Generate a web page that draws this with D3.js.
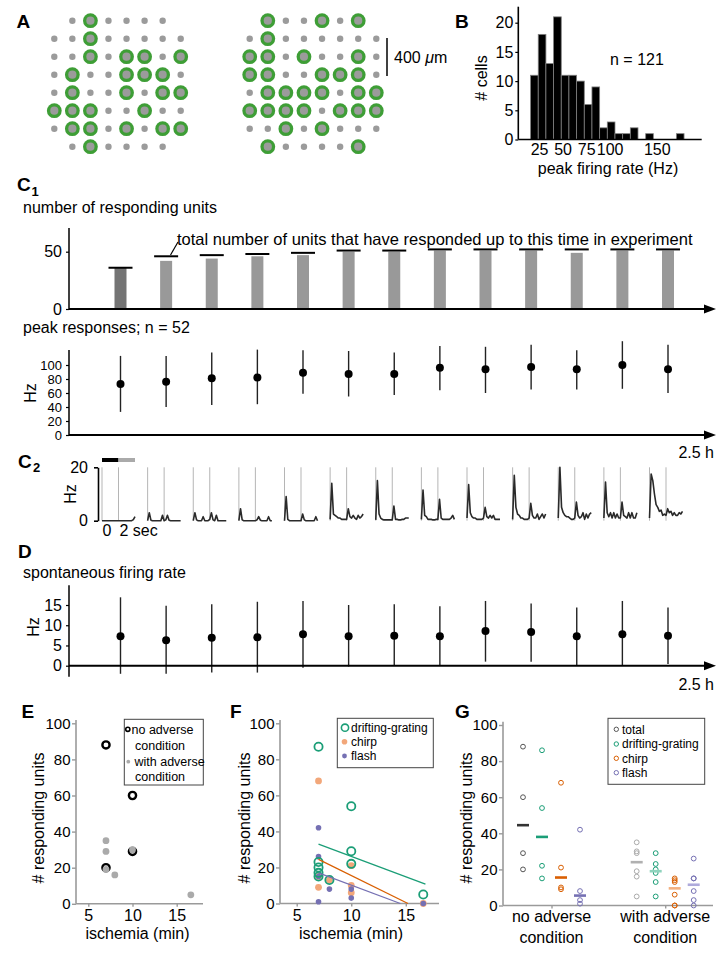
<!DOCTYPE html>
<html><head><meta charset="utf-8">
<script src="https://cdn.jsdelivr.net/npm/d3@7"></script>
<style>
body{margin:0;background:#fff;}
svg{display:block;font-family:"Liberation Sans",Arial,Helvetica,sans-serif;}
</style></head><body>
<svg id="fig" width="723" height="961"></svg>
<script>
// ---------------- DATA ----------------
// Panel A: electrode grids (' ' none, '.' electrode, 'G' responding)
const gridLeft  = [" .G.... ", "..G.....", "..G.GG.G", ".G..GGG.", ".G..G.GG", "GGG..G..", ".GG.G.GG", " .G.... "];
const gridRight = [" G..G.G ", ".G......", "GG.G..G.", "GG..GGG.", ".GGGG.GG", "GGGG.GGG", "..G.G...", " G....G "];
const scaleBarLabel = "400 ";

// Panel B: histogram of peak firing rates
const histCounts = [11,18,13,21,11,11,10,6,9,2,3,1,1,2,0,1,0,0,0,1];
const histRange = [16, 179];
const histXTicks = [25,50,75,100,150];
const histYTicks = [0,5,10,15,20];
const histLabel = "n = 121";

// Panel C1
const sessions = [1,2,3,4,5,6,7,8,9,10,11,12,13];
const respondingUnits = [36,42,44,46,47,50,50,51,51,51,49,51,51];
const cumulativeUnits = [36,46,47,48,49,51,51,52,52,52,52,52,52];
const unitTicks = [0,50];
const peakMean = [73,76,81,82,89,87,87,96,94,97,94,100,94];
const peakHigh = [113,113,118,122,121,120,118,127,126,129,121,134,129];
const peakLow  = [33,40,43,44,59,55,57,64,60,65,65,66,60];
const peakTicks = [0,20,40,60,80,100];

// Panel C2: PSTHs (Hz) at times (s)
const traceT = [0,0.2,0.4,0.6,0.8,1.0,1.2,1.4,1.6,1.8,2.0,2.2,2.4,2.6,2.8,3.0,3.2,3.4,3.6,3.8,4.0];
const psth = [
  [0,0,0,0,0,0,0,0,0,0,0,0,0,0,0,0,0,0,0,0.4,1.5],
  [0,3,0.2,0,0,0,0,0,0,2,0,0.3,2,0.2,0,0,0,0,0,0,0],
  [0,3,0.3,0,0,0,1.5,0,0,0,0.5,3,0.3,0,2,0,0,0,0,0,0],
  [0,4.5,0.3,0,0,0,0,0,0,0,0,0.3,1.5,0.2,0,0,0,0,1.5,0,0],
  [0,9,0.5,0,0,0,0,0,0,0,0,2.5,0.3,0,0,0,0,0,0,1.5,0],
  [0.5,14,2.5,2,1.5,1,1,0.5,0.5,0.5,0.5,4.5,1.5,1,2,1,0.5,2,1,1.5,2.5],
  [0.3,15,2.5,1,0.5,0.3,0.3,0.3,0.3,0.3,0.3,5.5,0.5,0.5,0.3,0.3,0.5,0.5,1,1,1],
  [0.5,11.5,2,1.5,0.5,0.5,0.5,0.3,0.3,0.5,0.5,8,1,0.5,0.5,0.5,0.5,0.5,1,2,0.5],
  [1,13.5,3,1.5,1,1,0.5,0.5,0.5,0.5,1,5,1.5,1,2,1,2,0.5,0.5,0.5,0.5],
  [0.5,17,5,2.5,2,1,1,0.5,0.5,0.5,1,6.5,2,1,1,2.5,0.5,1.5,2.5,1,2.5],
  [1,20,5,3,2,1.5,1.5,1,0.5,0.5,1,7,2,1,1.5,3,0.5,2.5,1,2.5,3],
  [1,14.5,3,1.5,3,1,3,1,2.5,1,1,7,2,1.5,1,3,1,3,1,1,3],
  [1,17.5,15,10,6,5,3.5,4,2,2.5,2,4.5,3,3.5,2,3,2,2,3,2.5,3.5]
];
const psthTicks = [0,20];

// Panel D
const spontMean = [7.3,6.3,6.9,7.0,7.8,7.3,7.4,7.3,8.6,8.3,7.3,7.8,7.4];
const spontHigh = [16.9,14.8,15.2,15.8,16.0,15.0,15.2,14.7,16.0,15.4,14.4,16.0,14.4];
const spontLow  = [-2.0,-2.0,-1.7,-1.7,-0.5,-0.2,0,0,1.0,1.0,0,0,0.4];
const spontTicks = [0,5,10,15];

// Panel E
const eNoAdvX = [7,10,7,10];
const eNoAdvY = [88,60,20,29];
const eAdvX = [7,7,7,8,10,16.6];
const eAdvY = [35,29,19,16,30,5];
const ischTicks = [5,10,15];
const unitsTicks = [0,20,40,60,80,100];

// Panel F
const fDriftX = [7,10,10,10,7,7,7,7,8,16.6];
const fDriftY = [87,54,29,22,23,20,17,15,13,5];
const fChirpX = [7,7,7,8,10,10,10,16.6];
const fChirpY = [68,15,9,13,21,10,6,0];
const fFlashX = [7,7,7,7,8,10,10,16.6];
const fFlashY = [42,26,15,1,8,8,3,0];
const fitDriftX = [7,16.8], fitDriftY = [33,10.7];
const fitChirpX = [7,15.2], fitChirpY = [24.5,0];
const fitFlashX = [7,14.5], fitFlashY = [17,0];

// Panel G
const gGroups = ["no adverse condition","with adverse condition"];
const gSeries = ["total","drifting-grating","chirp","flash"];
const gNoAdv = [[88,60,29,20],[86,54,22,15],[68,21,10,9],[42,8,3,1]];
const gWithAdv = [[35,30,29,19,16,5],[29,23,20,18,13,5],[15,14,13,6,0,0],[26,15,15,8,3,0]];

// ---------------- DRAWING ----------------
const svg = d3.select("#fig");

function text(g, x, y, t, o = {}) {
  return g.append("text").attr("x", x).attr("y", y).text(t)
    .attr("font-size", o.size || 16).attr("font-weight", o.weight || "normal")
    .attr("text-anchor", o.anchor || "start").attr("fill", o.fill || "#000");
}
function rtext(g, x, y, t, size = 16) {
  return g.append("text").attr("transform", `translate(${x},${y}) rotate(-90)`)
    .attr("text-anchor", "middle").attr("font-size", size).text(t);
}
function arrowAxis(g, y, x0, x1) {
  g.append("line").attr("x1", x0).attr("x2", x1 - 8).attr("y1", y).attr("y2", y)
    .attr("stroke", "#000").attr("stroke-width", 2);
  g.append("path").attr("d", `M${x1},${y}L${x1 - 12},${y - 4.5}L${x1 - 12},${y + 4.5}Z`).attr("fill", "#000");
}
function fixAxis(ax, color, size, width) {
  ax.attr("font-family", null).attr("font-size", null);
  ax.select(".domain").remove();
  ax.selectAll("line").attr("stroke", color).attr("stroke-width", width || 1.2);
  ax.selectAll("text").attr("font-size", size).attr("fill", "#000");
  return ax;
}

// ----- Panel A -----
const gA = svg.append("g");
text(gA, 16.5, 28, "A", {size: 19, weight: "bold"});
const rowY = d3.scalePoint().domain(d3.range(8)).range([20.7, 146.7]);
function drawGrid(grid, x0, x1) {
  const colX = d3.scalePoint().domain(d3.range(8)).range([x0, x1]);
  const cells = grid.flatMap((row, r) => row.split("").map((ch, c) => ({r, c, ch}))).filter(d => d.ch !== " ");
  gA.append("g").selectAll("circle").data(cells.filter(d => d.ch === "G")).join("circle")
    .attr("cx", d => colX(d.c)).attr("cy", d => rowY(d.r)).attr("r", 7.4).attr("fill", "#3e9e36");
  gA.append("g").selectAll("circle").data(cells).join("circle")
    .attr("cx", d => colX(d.c)).attr("cy", d => rowY(d.r))
    .attr("r", d => d.ch === "G" ? 4.1 : 3.2).attr("fill", "#9b9b9b");
}
drawGrid(gridLeft, 54.3, 180.7);
drawGrid(gridRight, 249.7, 376.3);
gA.append("line").attr("x1", 387).attr("x2", 387).attr("y1", 38).attr("y2", 76).attr("stroke", "#000").attr("stroke-width", 1.5);
const sb = gA.append("text").attr("x", 394).attr("y", 63).attr("font-size", 16);
sb.append("tspan").text(scaleBarLabel);
sb.append("tspan").attr("font-style", "italic").text("μ");
sb.append("tspan").text("m");

// ----- Panel B -----
const gB = svg.append("g");
text(gB, 455, 27.5, "B", {size: 19, weight: "bold"});
const xB = d3.scaleLinear().domain([0, 197]).range([515.5, 701]);
const yB = d3.scaleLinear().domain([0, 20]).range([139.5, 22.7]);
const binW = (histRange[1] - histRange[0]) / histCounts.length;
gB.append("g").selectAll("rect").data(histCounts.map((c, i) => ({c, i})).filter(d => d.c > 0)).join("rect")
  .attr("x", d => xB(histRange[0] + d.i * binW))
  .attr("width", d => xB(histRange[0] + (d.i + 1) * binW) - xB(histRange[0] + d.i * binW))
  .attr("y", d => yB(d.c)).attr("height", d => yB(0) - yB(d.c))
  .attr("fill", "#000").attr("stroke", "#808080").attr("stroke-width", 0.8);
gB.append("line").attr("x1", 518.3).attr("x2", 518.3).attr("y1", 6.7).attr("y2", 139.5).attr("stroke", "#000").attr("stroke-width", 1.6);
gB.append("line").attr("x1", 518.3).attr("x2", 701.7).attr("y1", 139.5).attr("y2", 139.5).attr("stroke", "#000").attr("stroke-width", 1.6);
fixAxis(gB.append("g").attr("transform", "translate(518.3,0)")
  .call(d3.axisLeft(yB).tickValues(histYTicks).tickSize(3).tickPadding(2)), "#000", 16);
fixAxis(gB.append("g").attr("transform", "translate(0,139.5)")
  .call(d3.axisBottom(xB).tickValues(histXTicks).tickSize(0).tickPadding(4.5)), "#000", 16);
text(gB, 610, 64.5, histLabel);
text(gB, 608, 173.5, "peak firing rate (Hz)", {anchor: "middle"});
rtext(gB, 487, 78, "# cells");

// ----- Panel C1 -----
const xT = d3.scalePoint().domain(sessions).range([120.5, 668]);
const gC = svg.append("g");
text(gC, 17, 191, "C", {size: 19, weight: "bold"});
text(gC, 31.5, 196, "1", {size: 13, weight: "bold"});
text(gC, 23, 213, "number of responding units");
const yU = d3.scaleLinear().domain([0, 50]).range([309, 251.7]);
gC.append("line").attr("x1", 69).attr("x2", 69).attr("y1", 228).attr("y2", 309).attr("stroke", "#000").attr("stroke-width", 1.5);
fixAxis(gC.append("g").attr("transform", "translate(69,0)")
  .call(d3.axisLeft(yU).tickValues(unitTicks).tickSize(3).tickPadding(4)), "#000", 16);
gC.append("g").selectAll("rect").data(sessions).join("rect")
  .attr("x", (s) => xT(s) - 6).attr("width", 12)
  .attr("y", (s, i) => yU(respondingUnits[i])).attr("height", (s, i) => yU(0) - yU(respondingUnits[i]))
  .attr("fill", (s, i) => i === 0 ? "#747474" : "#999999");
gC.append("g").selectAll("line").data(sessions).join("line")
  .attr("x1", s => xT(s) - 12).attr("x2", s => xT(s) + 12)
  .attr("y1", (s, i) => yU(cumulativeUnits[i])).attr("y2", (s, i) => yU(cumulativeUnits[i]))
  .attr("stroke", "#000").attr("stroke-width", 2);
arrowAxis(gC, 309, 69, 716);
gC.append("line").attr("x1", 170.5).attr("y1", 255).attr("x2", 178).attr("y2", 242).attr("stroke", "#000").attr("stroke-width", 1.2);
text(gC, 177, 245, "total number of units that have responded up to this time in experiment", {size: 16.5});

// peak responses
text(gC, 23, 333, "peak responses; n = 52");
const yP = d3.scaleLinear().domain([0, 100]).range([435, 365]);
gC.append("line").attr("x1", 69).attr("x2", 69).attr("y1", 350).attr("y2", 435).attr("stroke", "#000").attr("stroke-width", 1.5);
fixAxis(gC.append("g").attr("transform", "translate(69,0)")
  .call(d3.axisLeft(yP).tickValues(peakTicks).tickSize(3).tickPadding(4)), "#000", 13);
rtext(gC, 36, 393, "Hz");
gC.append("g").selectAll("line").data(sessions).join("line")
  .attr("x1", s => xT(s)).attr("x2", s => xT(s))
  .attr("y1", (s, i) => yP(peakHigh[i])).attr("y2", (s, i) => yP(peakLow[i]))
  .attr("stroke", "#222").attr("stroke-width", 1.4);
gC.append("g").selectAll("circle").data(sessions).join("circle")
  .attr("cx", s => xT(s)).attr("cy", (s, i) => yP(peakMean[i])).attr("r", 4).attr("fill", "#000");
arrowAxis(gC, 435, 69, 716);
text(gC, 714, 458, "2.5 h", {anchor: "end"});

// ----- Panel C2 -----
const gC2 = svg.append("g");
text(gC2, 18, 468, "C", {size: 19, weight: "bold"});
text(gC2, 33, 472, "2", {size: 13, weight: "bold"});
const yH = d3.scaleLinear().domain([0, 20]).range([520.7, 467.3]);
const axH = gC2.append("g").attr("transform", "translate(98,0)")
  .call(d3.axisLeft(yH).tickValues(psthTicks).tickSize(4).tickPadding(6).tickSizeOuter(0));
axH.attr("font-family", null).attr("font-size", null);
axH.select(".domain").attr("stroke-width", 1.6);
axH.selectAll("line").attr("stroke-width", 1.6);
axH.selectAll("text").attr("font-size", 16);
rtext(gC2, 76, 494, "Hz");
const tScale = d3.scaleLinear().domain([0, 4]).range([-17.5, 15.5]);
const stimOn = 0, stimOff = 2;
sessions.forEach((s, i) => {
  const g = gC2.append("g").attr("transform", `translate(${xT(s) - 1},0)`);
  [stimOn, stimOff].forEach(t => g.append("line").attr("x1", tScale(t)).attr("x2", tScale(t))
    .attr("y1", yH(20)).attr("y2", yH(0)).attr("stroke", "#b5b5b5").attr("stroke-width", 1));
  g.append("path").datum(psth[i])
    .attr("d", d3.line().x((v, k) => tScale(traceT[k])).y(v => yH(v)))
    .attr("fill", "none").attr("stroke", "#2a2a2a").attr("stroke-width", 1.6).attr("stroke-linejoin", "round");
});
const x1 = xT(sessions[0]) - 1;
gC2.append("rect").attr("x", x1 + tScale(0)).attr("width", tScale(2) - tScale(0)).attr("y", 458).attr("height", 4).attr("fill", "#000");
gC2.append("rect").attr("x", x1 + tScale(2)).attr("width", tScale(4) - tScale(2)).attr("y", 458).attr("height", 4).attr("fill", "#aaa");
text(gC2, x1 + tScale(0) + 5, 536, "0", {anchor: "middle"});
text(gC2, x1 + tScale(2) + 1, 536, "2 sec");

// ----- Panel D -----
const gD = svg.append("g");
text(gD, 18, 558, "D", {size: 19, weight: "bold"});
text(gD, 23, 578, "spontaneous firing rate");
const yS = d3.scaleLinear().domain([0, 15]).range([665.7, 605]);
gD.append("line").attr("x1", 69).attr("x2", 69).attr("y1", yS(19.9)).attr("y2", yS(-2.7)).attr("stroke", "#000").attr("stroke-width", 1.5);
fixAxis(gD.append("g").attr("transform", "translate(69,0)")
  .call(d3.axisLeft(yS).tickValues(spontTicks).tickSize(3).tickPadding(4)), "#000", 16);
rtext(gD, 39, 627, "Hz");
gD.append("g").selectAll("line").data(sessions).join("line")
  .attr("x1", s => xT(s)).attr("x2", s => xT(s))
  .attr("y1", (s, i) => yS(spontHigh[i])).attr("y2", (s, i) => yS(spontLow[i]))
  .attr("stroke", "#222").attr("stroke-width", 1.4);
gD.append("g").selectAll("circle").data(sessions).join("circle")
  .attr("cx", s => xT(s)).attr("cy", (s, i) => yS(spontMean[i])).attr("r", 4).attr("fill", "#000");
arrowAxis(gD, 665.7, 69, 716);
text(gD, 714, 690, "2.5 h", {anchor: "end"});

// ----- shared helpers for E/F/G -----
const AX = "#9a9a9a";
function grayAxes(g, xs, ys, xLeft, xRight, yBottom, yTop, xTicks) {
  g.append("line").attr("x1", xLeft).attr("x2", xLeft).attr("y1", yTop).attr("y2", yBottom).attr("stroke", AX).attr("stroke-width", 1.6);
  g.append("line").attr("x1", xLeft).attr("x2", xRight).attr("y1", yBottom).attr("y2", yBottom).attr("stroke", AX).attr("stroke-width", 1.6);
  fixAxis(g.append("g").attr("transform", `translate(${xLeft},0)`)
    .call(d3.axisLeft(ys).tickValues(unitsTicks).tickSize(4).tickPadding(1.5)), AX, 15, 1.4);
  if (xTicks) fixAxis(g.append("g").attr("transform", `translate(0,${yBottom})`)
    .call(d3.axisBottom(xs).tickValues(xTicks).tickSize(3).tickPadding(3)), AX, 16, 1.4);
}

// ----- Panel E -----
const gE = svg.append("g");
text(gE, 21.5, 718, "E", {size: 19, weight: "bold"});
const xE = d3.scaleLinear().domain([5, 15]).range([88.3, 176.7]);
const yE = d3.scaleLinear().domain([0, 100]).range([903.8, 723.3]);
grayAxes(gE, xE, yE, 76, 203, 903.8, 720, ischTicks);
rtext(gE, 43.5, 818, "# responding units");
text(gE, 137.5, 939, "ischemia (min)", {anchor: "middle"});
gE.append("g").selectAll("circle").data(eNoAdvY).join("circle")
  .attr("cx", (d, i) => xE(eNoAdvX[i])).attr("cy", d => yE(d)).attr("r", 3.6)
  .attr("fill", "none").attr("stroke", "#000").attr("stroke-width", 2.4);
gE.append("g").selectAll("circle").data(eAdvY).join("circle")
  .attr("cx", (d, i) => xE(eAdvX[i])).attr("cy", d => yE(d)).attr("r", 3.4).attr("fill", "#aaaaaa");
// legend E
gE.append("rect").attr("x", 124.3).attr("y", 719.3).attr("width", 79).attr("height", 65.7)
  .attr("fill", "#fff").attr("stroke", "#444").attr("stroke-width", 1);
gE.append("circle").attr("cx", 127.8).attr("cy", 729.3).attr("r", 2.1).attr("fill", "none").attr("stroke", "#000").attr("stroke-width", 1.6);
text(gE, 131.5, 733.8, "no adverse", {size: 12.5});
text(gE, 135, 749.5, "condition", {size: 12.5});
gE.append("circle").attr("cx", 128.3).attr("cy", 761.7).attr("r", 1.9).attr("fill", "#aaa");
text(gE, 134.5, 766.2, "with adverse", {size: 12.5});
text(gE, 135, 781, "condition", {size: 12.5});

// ----- Panel F -----
const gF = svg.append("g");
text(gF, 230, 718, "F", {size: 19, weight: "bold"});
const xF = d3.scaleLinear().domain([5, 15]).range([296.7, 405.8]);
const yF = d3.scaleLinear().domain([0, 100]).range([903.5, 723.3]);
grayAxes(gF, xF, yF, 280, 439, 903.5, 720, ischTicks);
rtext(gF, 250, 818, "# responding units");
text(gF, 351, 939, "ischemia (min)", {anchor: "middle"});
const GREEN = "#1b9e77", ORANGE = "#d95f02", PURPLE = "#7570b3", LORANGE = "#f2a77a";
gF.append("g").selectAll("circle").data(fChirpY).join("circle")
  .attr("cx", (d, i) => xF(fChirpX[i])).attr("cy", d => yF(d)).attr("r", 3.4).attr("fill", LORANGE);
gF.append("g").selectAll("circle").data(fFlashY).join("circle")
  .attr("cx", (d, i) => xF(fFlashX[i])).attr("cy", d => yF(d)).attr("r", 2.8).attr("fill", PURPLE);
gF.append("g").selectAll("circle").data(fDriftY).join("circle")
  .attr("cx", (d, i) => xF(fDriftX[i])).attr("cy", d => yF(d)).attr("r", 4.1)
  .attr("fill", "none").attr("stroke", GREEN).attr("stroke-width", 1.8);
[[fitDriftX, fitDriftY, GREEN], [fitChirpX, fitChirpY, ORANGE], [fitFlashX, fitFlashY, PURPLE]].forEach(([fx, fy, c]) => {
  gF.append("line").attr("x1", xF(fx[0])).attr("x2", xF(fx[1])).attr("y1", yF(fy[0])).attr("y2", yF(fy[1]))
    .attr("stroke", c).attr("stroke-width", 1.3);
});
gF.append("rect").attr("x", 337.3).attr("y", 718.3).attr("width", 96).attr("height", 49.4)
  .attr("fill", "#fff").attr("stroke", "#444").attr("stroke-width", 1);
gF.append("circle").attr("cx", 345).attr("cy", 727.7).attr("r", 3.6).attr("fill", "none").attr("stroke", GREEN).attr("stroke-width", 1.6);
text(gF, 351, 731.9, "drifting-grating", {size: 12});
gF.append("circle").attr("cx", 344.5).attr("cy", 741.7).attr("r", 2.8).attr("fill", LORANGE);
text(gF, 351, 745.9, "chirp", {size: 12});
gF.append("circle").attr("cx", 344.5).attr("cy", 756).attr("r", 2.4).attr("fill", PURPLE);
text(gF, 351, 760.2, "flash", {size: 12});

// ----- Panel G -----
const gG = svg.append("g");
text(gG, 455, 718, "G", {size: 19, weight: "bold"});
const yG = d3.scaleLinear().domain([0, 100]).range([905.5, 725]);
const xG = d3.scalePoint().domain(gGroups).range([551.5, 665.2]);
const off = d3.scalePoint().domain(gSeries).range([-28.5, 28.5]);
gG.append("line").attr("x1", 503).attr("x2", 503).attr("y1", 721.7).attr("y2", 905.5).attr("stroke", AX).attr("stroke-width", 1.6);
gG.append("line").attr("x1", 503).attr("x2", 713).attr("y1", 905.5).attr("y2", 905.5).attr("stroke", AX).attr("stroke-width", 1.6);
fixAxis(gG.append("g").attr("transform", "translate(503,0)")
  .call(d3.axisLeft(yG).tickValues(unitsTicks).tickSize(4).tickPadding(1.5)), AX, 15, 1.4);
fixAxis(gG.append("g").attr("transform", "translate(0,905.5)")
  .call(d3.axisBottom(xG).tickSize(3).tickFormat("")), AX, 16, 1.4);
gGroups.forEach(gr => {
  const words = gr.split(" ");
  text(gG, xG(gr), 922, words.slice(0, 2).join(" "), {anchor: "middle"});
  text(gG, xG(gr), 943, words.slice(2).join(" "), {anchor: "middle"});
});
rtext(gG, 472, 818, "# responding units");
const ptColors = [["#555", GREEN, ORANGE, PURPLE], ["#aaaaaa", GREEN, ORANGE, PURPLE]];
const barColors = [["#333", GREEN, ORANGE, PURPLE], ["#b0b0b0", "#8fd3bd", "#f3b07f", "#aeaadb"]];
[gNoAdv, gWithAdv].forEach((grp, gi) => {
  grp.forEach((vals, si) => {
    const cx = xG(gGroups[gi]) + off(gSeries[si]);
    gG.append("g").selectAll("circle").data(vals).join("circle")
      .attr("cx", cx).attr("cy", d => yG(d)).attr("r", 2.4)
      .attr("fill", "none").attr("stroke", ptColors[gi][si]).attr("stroke-width", 1);
    const med = d3.median(vals);
    gG.append("line").attr("x1", cx - 6).attr("x2", cx + 6).attr("y1", yG(med)).attr("y2", yG(med))
      .attr("stroke", barColors[gi][si]).attr("stroke-width", 2.6);
  });
});
gG.append("rect").attr("x", 608).attr("y", 718.3).attr("width", 96.7).attr("height", 66)
  .attr("fill", "#fff").attr("stroke", "#444").attr("stroke-width", 1);
const legY = [729.3, 744, 758.3, 772.7];
gSeries.forEach((s, i) => {
  gG.append("circle").attr("cx", 616.3).attr("cy", legY[i]).attr("r", 2.2)
    .attr("fill", "none").attr("stroke", ptColors[0][i]).attr("stroke-width", 1);
  text(gG, 622, legY[i] + 4.2, s, {size: 12});
});
</script></body></html>
